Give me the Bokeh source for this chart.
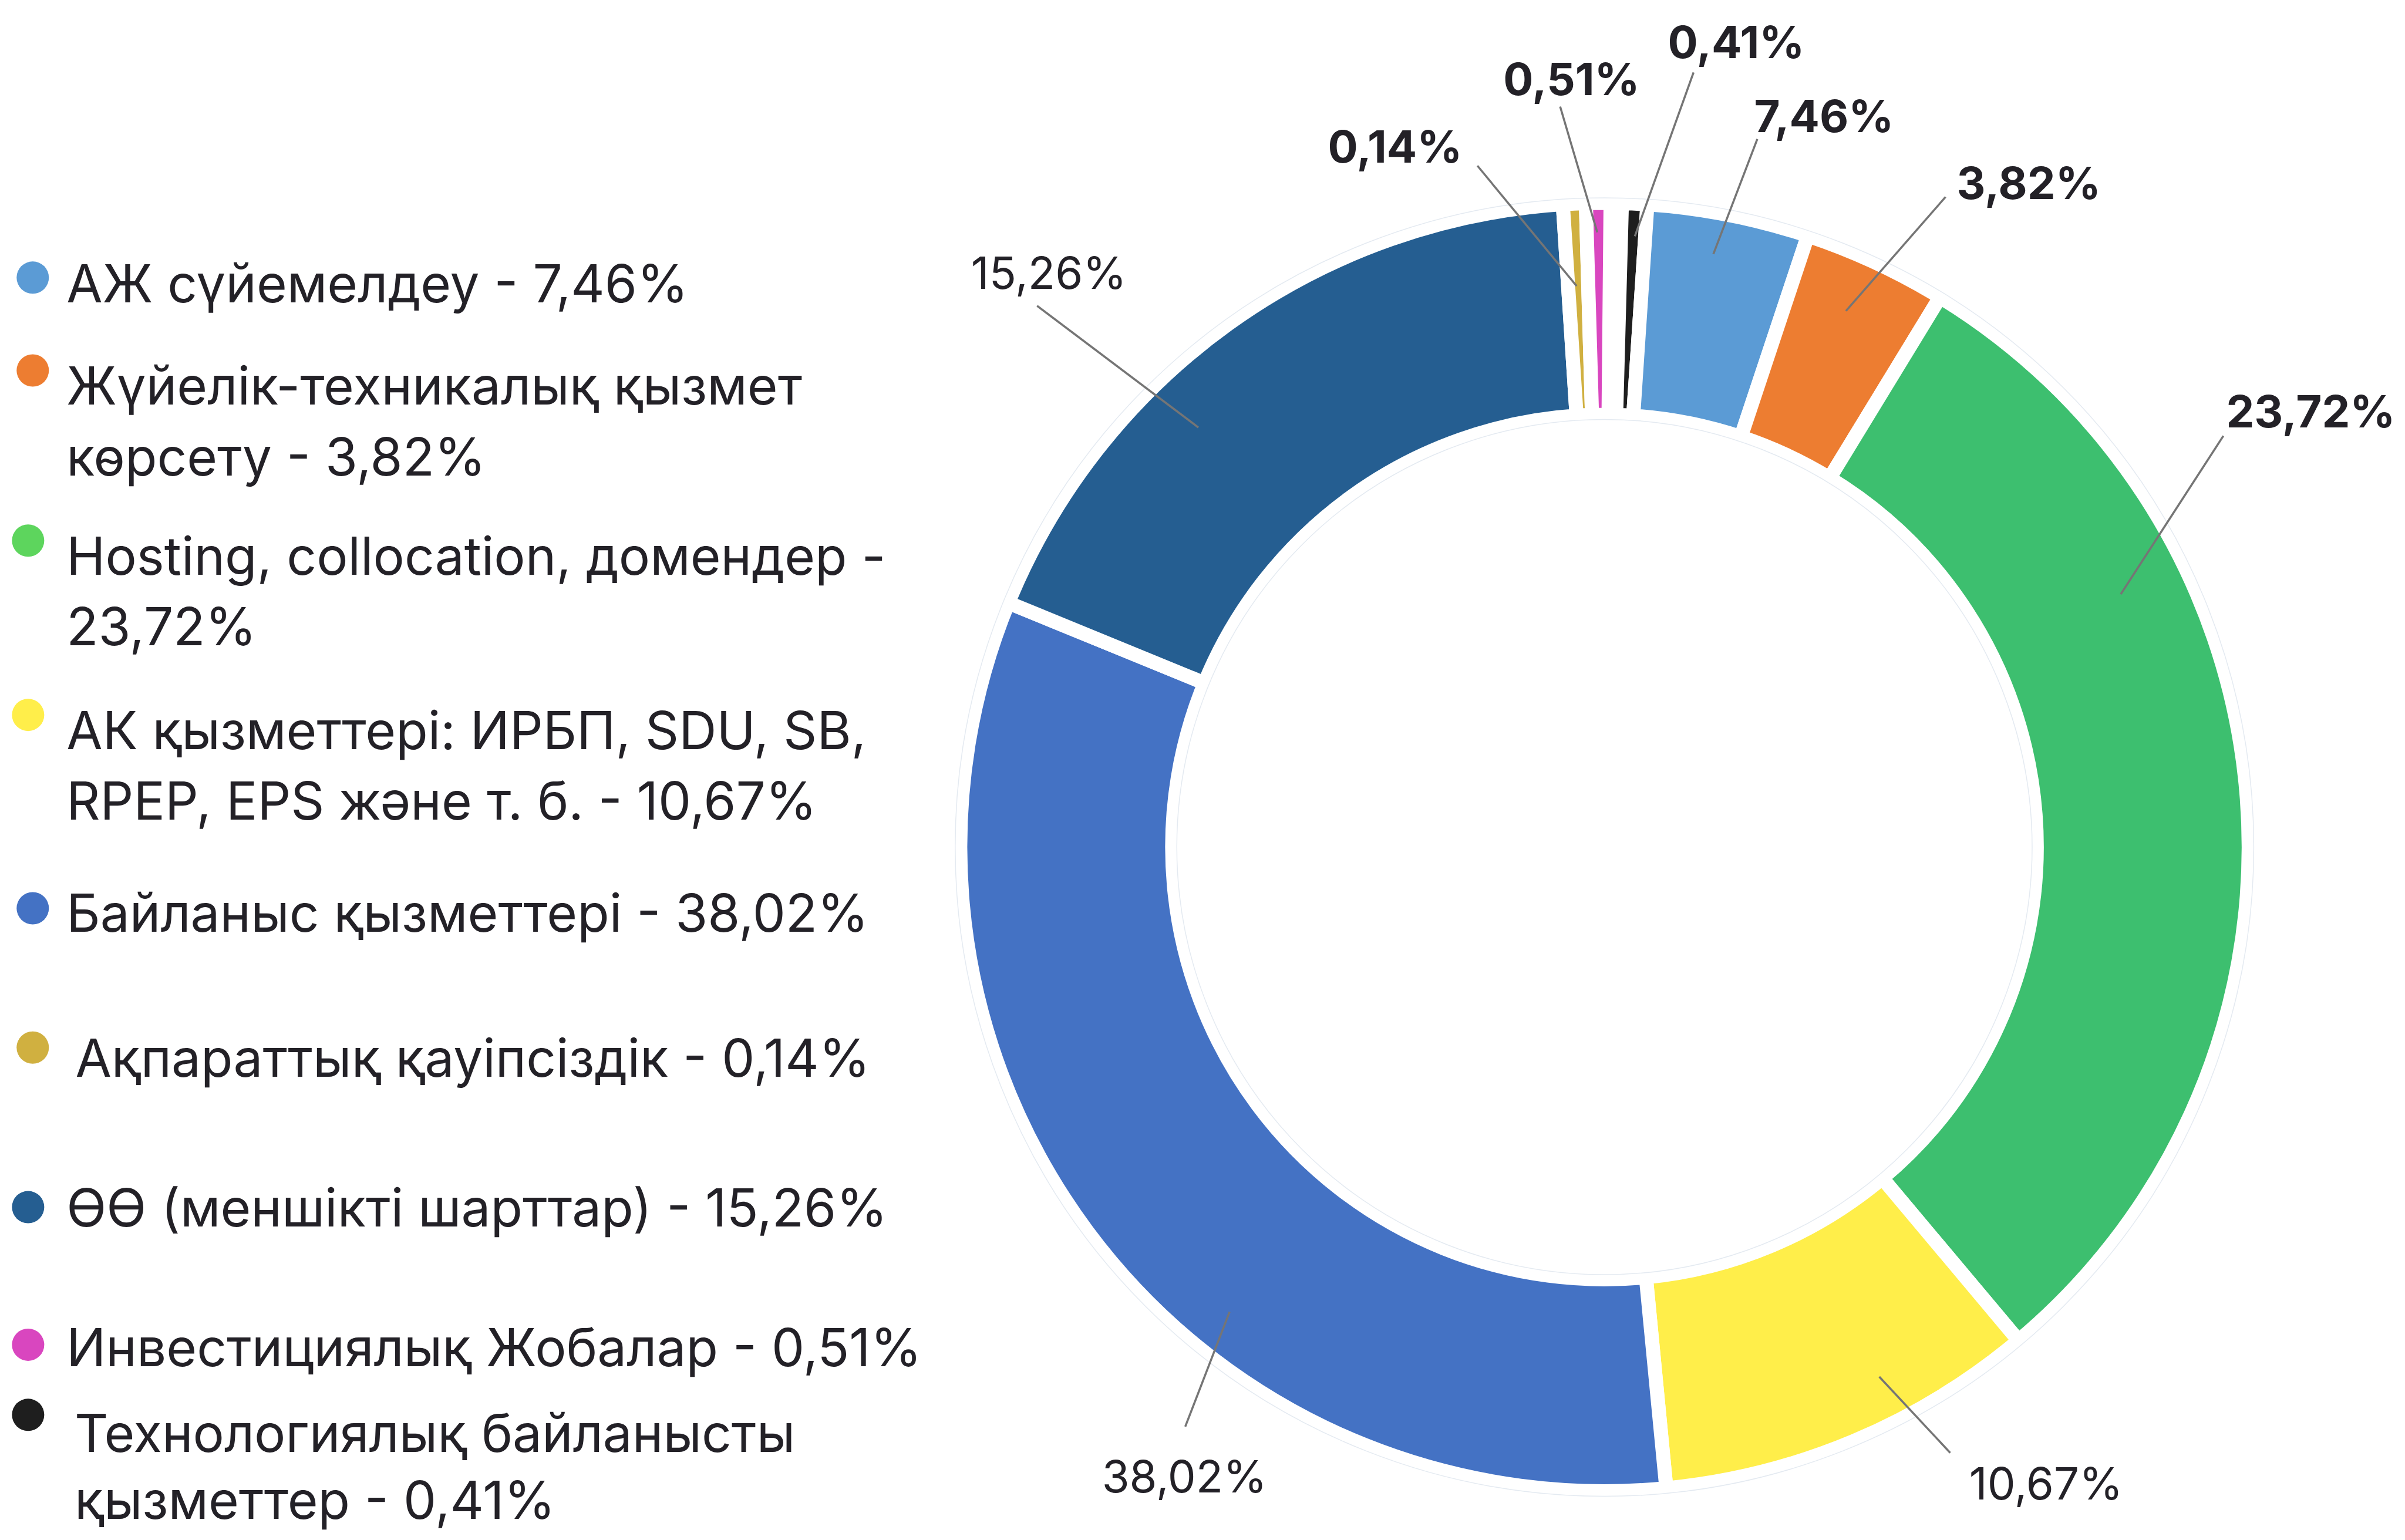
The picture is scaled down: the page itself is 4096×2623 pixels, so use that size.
import math
from bokeh.plotting import figure
from bokeh.models import Range1d, ColumnDataSource
from bokeh.core.properties import value
from bokeh.embed import file_html
from bokeh.resources import INLINE

# ---------------- data ----------------
categories = [
    "АЖ сүйемелдеу",
    "Жүйелік-техникалық қызмет көрсету",
    "Hosting, collocation, домендер",
    "АК қызметтері: ИРБП, SDU, SB, RPEP, EPS және т. б.",
    "Байланыс қызметтері",
    "Ақпараттық қауіпсіздік",
    "ӨӨ (меншікті шарттар)",
    "Инвестициялық Жобалар",
    "Технологиялық байланысты қызметтер",
]
label_values = ["7,46%", "3,82%", "23,72%", "10,67%", "38,02%", "0,14%", "15,26%", "0,51%", "0,41%"]
# share of the ring each slice actually occupies in the picture (percent of 360 deg)
drawn_share = [4.05, 3.61, 30.17, 9.58, 32.72, 0.57, 17.78, 0.61, 0.63]
slice_colors = ["#5b9bd5", "#ed7d31", "#3dbf6f", "#ffee4a", "#4472c4",
                "#d0b040", "#255e91", "#d946bf", "#1e1e1e"]
legend_colors = ["#5b9bd5", "#ed7d31", "#5dd55d", "#ffee4a", "#4472c4",
                 "#d0b040", "#255e91", "#d946bf", "#1e1e1e"]
legend_lines = [
    ["АЖ сүйемелдеу - 7,46%"],
    ["Жүйелік-техникалық қызмет", "көрсету - 3,82%"],
    ["Hosting, collocation, домендер -", "23,72%"],
    ["АК қызметтері: ИРБП, SDU, SB,", "RPEP, EPS және т. б. - 10,67%"],
    ["Байланыс қызметтері - 38,02%"],
    ["Ақпараттық қауіпсіздік - 0,14%"],
    ["ӨӨ (меншікті шарттар) - 15,26%"],
    ["Инвестициялық Жобалар - 0,51%"],
    ["Технологиялық байланысты", "қызметтер - 0,41%"],
]
ring_order = [8, 0, 1, 2, 3, 4, 6, 5, 7]   # clockwise order on the ring

# ---------------- layout (reference pixel units) ----------------
S = 0.719
W, H = 4080, 2607
PAD = 8 / S
CX, CY = 3811, 2017
R_OUT, R_IN = 1526, 1024
GAP_PX = 24
START_DEG = 1.55
LEGEND_FS, LABEL_FS = 89, 76
BASE_FIX = 0.28          # em: renderer puts alphabetic baseline a bit low

legend_marker = [(88, 668), (88, 888), (77, 1291), (77, 1704), (88, 2162),
                 (88, 2492), (77, 2870), (77, 3196), (77, 3362)]
legend_text_pos = [(168, 716), (168, 958), (168, 1362), (168, 1774), (168, 2207),
                   (189, 2551), (168, 2906), (168, 3237), (187, 3440)]
legend_line_gap = [168, 169, 167, 168, 168, 168, 168, 168, 158]

label_pos = {0: (4331, 314), 1: (4816, 473), 2: (5484, 1013), 3: (4857, 3553),
             4: (2816, 3537), 5: (3315, 386), 6: (2495, 686), 7: (3733, 226),
             8: (4123, 139)}
label_bold = {0, 1, 2, 5, 7, 8}
leader = {0: ((4173, 340), (4069, 612)), 1: ((4619, 477), (4383, 747)),
          2: ((5277, 1043), (5034, 1418)), 3: ((4462, 3272), (4630, 3452)),
          4: ((2923, 3118), (2818, 3390)), 5: ((3510, 403), (3745, 688)),
          6: ((2467, 735), (2849, 1023)), 7: ((3706, 263), (3794, 561)),
          8: ((4022, 182), (3883, 570))}

p = figure(width=W, height=H, output_backend="svg", toolbar_location=None,
           x_range=Range1d(PAD, PAD + W / S), y_range=Range1d(-(PAD + H / S), -PAD))
p.axis.visible = False
p.grid.visible = False
p.outline_line_color = None
p.min_border = 0
p.background_fill_color = "white"
p.border_fill_color = "white"

# ---------------- ring ----------------
starts, ends, cols = [], [], []
cur = START_DEG
for idx in ring_order:
    span = drawn_share[idx] * 3.6
    t1, t2 = cur, cur + span
    starts.append(math.radians(90 - t2))
    ends.append(math.radians(90 - t1))
    cols.append(slice_colors[idx])
    cur = t2
ring = ColumnDataSource(dict(x=[CX] * len(starts), y=[-CY] * len(starts),
                             s=starts, e=ends, c=cols))
p.annular_wedge(x="x", y="y", inner_radius=R_IN, outer_radius=R_OUT,
                start_angle="s", end_angle="e", fill_color="c",
                line_color="white", line_width=GAP_PX, line_join="miter", source=ring)
p.circle(x=[CX, CX], y=[-CY, -CY], radius=[1538, 1013], fill_color=None,
         line_color="#e4eaf1", line_width=1.5)

# ---------------- leader lines ----------------
ld = ColumnDataSource(dict(
    x0=[leader[i][0][0] for i in range(9)], y0=[-leader[i][0][1] for i in range(9)],
    x1=[leader[i][1][0] for i in range(9)], y1=[-leader[i][1][1] for i in range(9)]))
p.segment(x0="x0", y0="y0", x1="x1", y1="y1", line_color="#757575",
          line_width=3.5, source=ld)

# ---------------- slice labels ----------------
lab_fix = BASE_FIX * LABEL_FS / S
for bold in (True, False):
    ids = [i for i in range(9) if (i in label_bold) == bold]
    src = ColumnDataSource(dict(x=[label_pos[i][0] for i in ids],
                                y=[-(label_pos[i][1] - lab_fix) for i in ids],
                                t=[label_values[i] for i in ids]))
    p.text(x="x", y="y", text="t", source=src, text_font=value("Inter"),
           text_font_size=f"{LABEL_FS}px", text_font_style="bold" if bold else "normal",
           text_color="#232127", text_align="center", text_baseline="alphabetic")

# ---------------- legend ----------------
p.scatter(x=[m[0] for m in legend_marker], y=[-m[1] for m in legend_marker],
          size=55, marker="circle", fill_color=legend_colors, line_color=None)
leg_fix = BASE_FIX * LEGEND_FS / S
tx, ty, tt = [], [], []
for i, lines in enumerate(legend_lines):
    x0, y0 = legend_text_pos[i]
    for k, line in enumerate(lines):
        tx.append(x0)
        ty.append(-(y0 + k * legend_line_gap[i] - leg_fix))
        tt.append(line)
p.text(x=tx, y=ty, text=tt, text_font=value("Inter"), text_font_size=f"{LEGEND_FS}px",
       text_color="#232127", text_align="left", text_baseline="alphabetic")

open("out.html", "w").write(file_html(p, INLINE))
